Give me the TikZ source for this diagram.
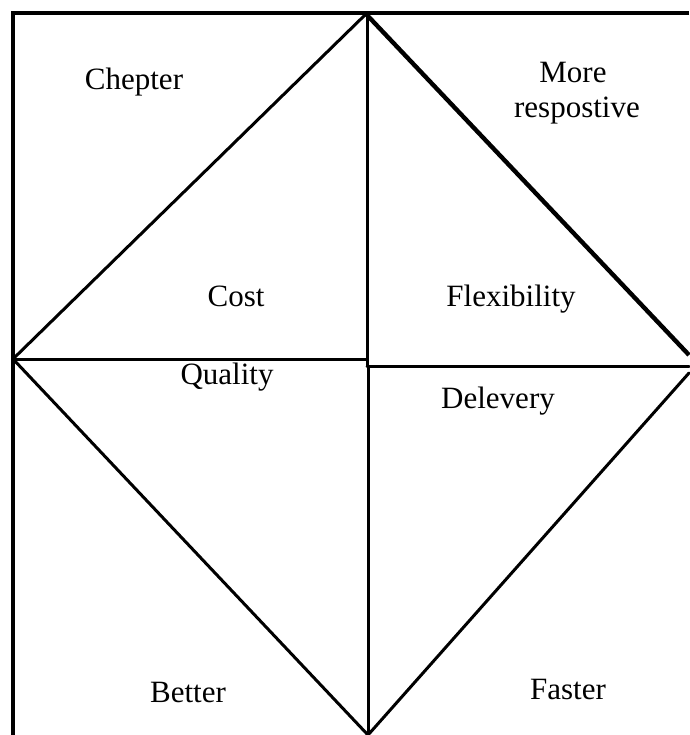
\documentclass[tikz,border=0pt]{standalone}
\usepackage{fontspec}
\setmainfont{Liberation Serif}
\usepackage{tikz}
\usetikzlibrary{positioning,calc}

\tikzset{
    edge/.style={line width=3pt, line cap=round},
    frame/.style={line width=3.4pt},
    label/.style={font=\fontsize{31}{35}\selectfont, anchor=base, inner sep=0pt, align=center}
}

\begin{document}
\begin{tikzpicture}[x=1pt, y=-1pt]
    % Page size 689 x 735, y grows downwards
    \useasboundingbox (0,0) rectangle (689,735);

    % Corners of the diamond
    \coordinate (top) at (366,14);
    \coordinate (left) at (13,359);
    \coordinate (bottom) at (368,735);
    \coordinate (rightup) at (689,355);
    \coordinate (rightdown) at (689,373);

    % Outer frame (top and left only)
    \draw[frame] (689,13) -- (13,13) -- (13,735);

    % Cross in the middle
    \draw[edge] (367,13) -- (367,366);
    \draw[edge] (left) -- (367,359);
    \draw[edge] (367,366) -- (689,366);
    \draw[edge] (368,366) -- (bottom);

    % Diamond sides
    \draw[edge] (left) -- (top);
    \draw[line width=4.4pt] (top) -- (rightup);
    \draw[edge] (left) -- (bottom);
    \draw[edge] (bottom) -- (rightdown);

    % Corner labels
    \node[label] (chepter) at (134,90) {Chepter};
    \node[label] (more) at (573,83) {More};
    \node[label] (respostive) at (577,118) {respostive};
    \node[label] (better) at (188,702) {Better};
    \node[label] (faster) at (568,699) {Faster};

    % Labels inside the diamond
    \node[label] (cost) at (236,306) {Cost};
    \node[label] (flexibility) at (511,306) {Flexibility};
    \node[label] (quality) at (227,384) {Quality};
    \node[label] (delevery) at (498,408) {Delevery};
\end{tikzpicture}
\end{document}
